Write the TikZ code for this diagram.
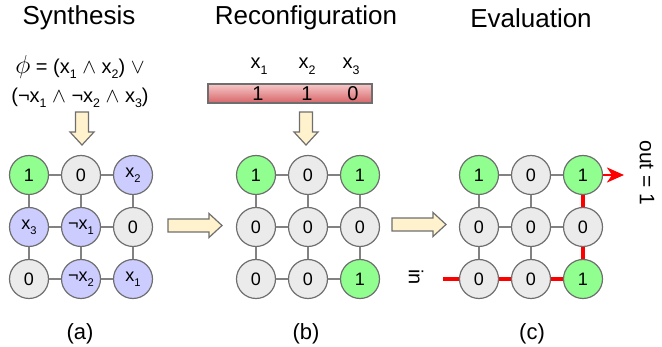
\documentclass[tikz,border=0pt]{standalone}
\usepackage{fontspec}
\setmainfont{Liberation Sans}
\usetikzlibrary{arrows.meta}

\definecolor{cgreen}{RGB}{144,255,144}
\definecolor{cgray}{RGB}{235,235,235}
\definecolor{cvar}{RGB}{204,204,255}
\definecolor{cedge}{RGB}{110,110,110}
\definecolor{clink}{RGB}{130,130,130}
\definecolor{cblock}{RGB}{255,242,204}
\definecolor{cpath}{RGB}{255,0,0}
\definecolor{cbartop}{RGB}{246,200,200}
\definecolor{cbarbot}{RGB}{214,100,104}

% variable with a low, small index
\newcommand\xv[1]{x\raisebox{-0.28em}{\scalebox{0.62}{#1}}}
\newcommand\nx[1]{\char"00AC\xv{#1}}

\tikzset{
  cell/.style={circle, draw=cedge, line width=1.2pt, minimum size=39pt,
    inner sep=0pt, font=\fontsize{18}{18}\selectfont},
  one/.style={cell, fill=cgreen},
  zero/.style={cell, fill=cgray},
  var/.style={cell, fill=cvar},
  link/.style={draw=clink, line width=1.4pt},
  redlink/.style={draw=cpath, line width=3.6pt},
  title/.style={font=\fontsize{26}{26}\selectfont},
  sublabel/.style={font=\fontsize{22}{22}\selectfont},
  formula/.style={font=\fontsize{20}{20}\selectfont, inner sep=0pt},
  blockstyle/.style={fill=cblock, draw=cedge, line width=1.2pt, line join=miter},
  varrow/.pic={\path[blockstyle] (0,-6.5) -- (20,-6.5) -- (20,-12) -- (33,0)
      -- (20,12) -- (20,6.5) -- (0,6.5) -- cycle;},
  harrow/.pic={\path[blockstyle] (0,-6.5) -- (41,-6.5) -- (41,-12) -- (54,0)
      -- (41,12) -- (41,6.5) -- (0,6.5) -- cycle;},
}

\begin{document}
\begin{tikzpicture}[x=1pt, y=-1pt]
\useasboundingbox (0,0) rectangle (662,347);

% headings
\node[title] (tA) at (79,18) {Synthesis};
\node[title] (tB) at (306,18) {Reconfiguration};
\node[title] (tC) at (531,18) {Evaluation};

% formula of (a)
\node[formula] (fA) at (80,67) {\scalebox{1.25}{$\phi$} = (\xv{1} $\wedge$ \xv{2}) $\vee$};
\node[formula] (fB) at (80,98) {(\nx{1} $\wedge$ \nx{2} $\wedge$ \xv{3})};

% input vector of (b)
\node[formula] (v1) at (259,66) {\xv{1}};
\node[formula] (v2) at (307,66) {\xv{2}};
\node[formula] (v3) at (351,66) {\xv{3}};
\path[draw=cedge, line width=1.2pt, top color=cbartop, bottom color=cbarbot]
  (208,84) rectangle (372,103);
\node[formula] (b1) at (258,94) {1};
\node[formula] (b2) at (307,94) {1};
\node[formula] (b3) at (353,94) {0};

% block arrows
\pic[rotate=-90] at (82,112) {varrow};
\pic[rotate=-90] at (306,112) {varrow};
\pic at (168,225.5) {harrow};
\pic at (392,224.5) {harrow};

% grid (a)
\node[one]  (a11) at (29,175)  {1};
\node[zero] (a12) at (81,175)  {0};
\node[var]  (a13) at (133,175) {\xv{2}};
\node[var]  (a21) at (29,227)  {\xv{3}};
\node[var]  (a22) at (81,227)  {\nx{1}};
\node[zero] (a23) at (133,227) {0};
\node[zero] (a31) at (29,279)  {0};
\node[var]  (a32) at (81,279)  {\nx{2}};
\node[var]  (a33) at (133,279) {\xv{1}};

% grid (b)
\node[one]  (b11) at (256,175) {1};
\node[zero] (b12) at (308,175) {0};
\node[one]  (b13) at (360,175) {1};
\node[zero] (b21) at (256,227) {0};
\node[zero] (b22) at (308,227) {0};
\node[zero] (b23) at (360,227) {0};
\node[zero] (b31) at (256,279) {0};
\node[zero] (b32) at (308,279) {0};
\node[one]  (b33) at (360,279) {1};

% grid (c)
\node[one]  (c11) at (479,175) {1};
\node[zero] (c12) at (531,175) {0};
\node[one]  (c13) at (583,175) {1};
\node[zero] (c21) at (479,227) {0};
\node[zero] (c22) at (531,227) {0};
\node[zero] (c23) at (583,227) {0};
\node[zero] (c31) at (479,279) {0};
\node[zero] (c32) at (531,279) {0};
\node[one]  (c33) at (583,279) {1};

% links of (a) and (b)
\foreach \g in {a,b}{
  \foreach \r in {1,2,3}{
    \draw[link] (\g\r1) -- (\g\r2);
    \draw[link] (\g\r2) -- (\g\r3);
    \draw[link] (\g1\r) -- (\g2\r);
    \draw[link] (\g2\r) -- (\g3\r);
  }
}

% links of (c)
\draw[link] (c11) -- (c12);
\draw[link] (c12) -- (c13);
\draw[link] (c21) -- (c22);
\draw[link] (c22) -- (c23);
\draw[link] (c11) -- (c21);
\draw[link] (c21) -- (c31);
\draw[link] (c12) -- (c22);
\draw[link] (c22) -- (c32);

% active path of (c)
\coordinate (inC) at (443,279);
\coordinate (outC) at (624,175);
\draw[redlink] (inC) -- (c31);
\draw[redlink] (c31) -- (c32);
\draw[redlink] (c32) -- (c33);
\draw[redlink] (c33) -- (c23);
\draw[redlink] (c23) -- (c13);
\draw[draw=cpath, line width=2.6pt, -{Stealth[length=17pt, width=15pt, inset=5pt]}]
  (c13) -- (outC);

\node[font=\fontsize{20}{20}\selectfont, rotate=-90] (inL) at (416,277) {in};
\node[font=\fontsize{21}{21}\selectfont, rotate=-90] (outL) at (647,173) {out = 1};

% panel labels
\node[sublabel] (la) at (80,334) {(a)};
\node[sublabel] (lb) at (306,334) {(b)};
\node[sublabel] (lc) at (532,334) {(c)};
\end{tikzpicture}
\end{document}
